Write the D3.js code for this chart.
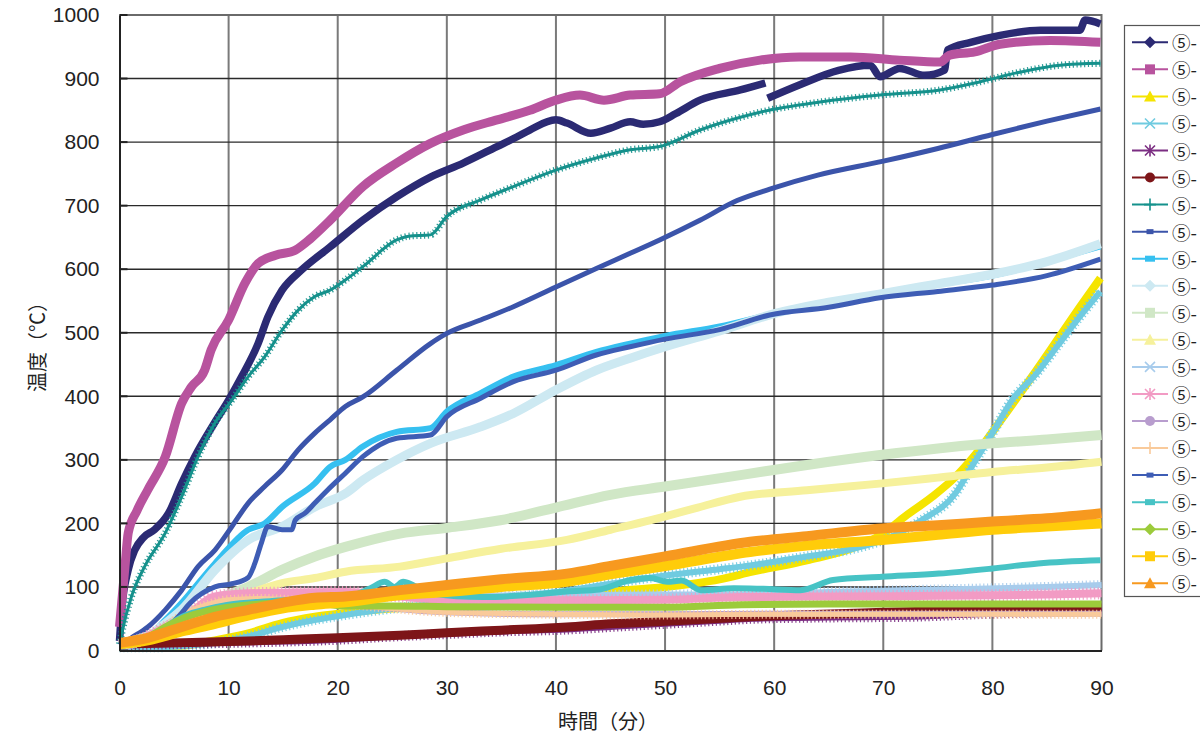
<!DOCTYPE html>
<html>
<head>
<meta charset="utf-8">
<script src="https://cdn.jsdelivr.net/npm/d3@7"></script>
<style>
  html, body { margin: 0; padding: 0; background: #fff; }
  svg { display: block; }
</style>
</head>
<body>
<svg id="chart" width="1200" height="742"></svg>
<script>
// Temperature readings, [minute, °C]; a null value marks a break in logging.
const s01 = [[0,15],[0.2,64],[0.8,127],[1.4,158],[2.2,178],[3.2,190],[4.5,216],[5.7,263],[6.9,305],[8.7,358],[10,394],[11.2,431],[12.7,483],[13.6,525],[14.9,567],[16.7,599],[19.3,635],[22.3,677],[25.4,714],[28.5,745],[31.5,767],[34.6,793],[36.4,808],[37.6,819],[40,835],[41,830],[43.2,814],[45,822],[46.8,832],[48,828],[49.5,832],[51,845],[53.2,866],[56.9,882],[59.2,893],[59.3,null],[59.4,869],[62.3,890],[65.9,913],[68.8,921],[69.7,903],[71.5,916],[73.8,905],[75.6,913],[75.9,945],[78,957],[80.7,968],[84.4,976],[88,976],[88.5,992],[89.9,986]];
const s02 = [[0,37],[0.5,132],[0.8,185],[1.6,220],[2.6,253],[4.2,305],[5.7,389],[6.6,415],[7.8,441],[8.4,473],[10,520],[11.5,578],[12.7,609],[14.3,622],[16.1,630],[17.5,648],[19.3,677],[22.3,730],[25.4,767],[28.5,798],[31.5,819],[34.6,835],[37.6,850],[40,866],[42.2,874],[44.4,866],[46.8,874],[49.5,876],[51.4,895],[55,916],[58.7,929],[62.3,934],[67,934],[71.5,929],[75.2,926],[76.1,937],[78.4,942],[80.7,954],[85.3,960],[89.9,957]];
const s03 = [[0,5],[3,6],[6,8],[8.75,16],[11.8,27],[14.9,43],[17.9,53],[20.7,59],[25,66],[30,70],[35,77],[40,85],[45,93],[50,100],[55,112],[58,124],[63,142],[67.5,163],[70,184],[72,211],[74.5,242],[76.6,273],[78.8,316],[80.6,358],[82.1,394],[84,440],[86,490],[88,540],[89.9,586]];
const s04 = [[0,5],[3,5],[6,7],[8.75,12],[11.8,22],[14.9,37],[17.9,48],[20.7,56],[25,66],[30,75],[35,82],[40,92],[45,105],[50,118],[55,128],[57,132],[63,148],[67.5,161],[70,174],[73.5,205],[76.6,247],[78.1,289],[80,342],[81.8,394],[84,435],[86,480],[88,525],[89.9,565]];
const s05 = [[0,8],[5,10],[10,12],[15,14],[20,17],[25,22],[30,26],[35,30],[41,33],[45,37],[50,42],[55,47],[58,50],[65,52],[72,53],[80,58],[90,62]];
const s06 = [[0,10],[5,12],[10,14],[15,17],[20,20],[25.7,24],[30,28],[35,32],[41,37],[45,42],[50,46],[57.8,53],[62,56],[70,60],[80,64],[90,67]];
const s07 = [[0,10],[0.2,27],[1.1,85],[2.3,132],[4.2,185],[5.7,242],[7.2,305],[8.75,358],[10.3,394],[11.8,431],[13.3,462],[14.9,504],[16.4,536],[17.9,557],[19.3,567],[20.7,583],[22.3,604],[25.4,646],[26.5,652],[28.5,654],[30,683],[33.1,709],[36.1,730],[40,756],[43.7,775],[46.8,788],[49.5,793],[53.2,819],[56.9,839],[58.7,847],[64.2,863],[69.7,874],[75.2,882],[78.9,895],[82.5,910],[86.2,921],[89.9,924]];
const s08 = [[0,8],[1.1,20],[2.6,37],[4.2,64],[5.7,95],[7.2,132],[8.75,158],[10.3,195],[11.8,232],[13.3,258],[14.9,284],[16.4,316],[17.9,342],[19.3,363],[20.7,384],[22.3,399],[25.4,441],[28.5,483],[30,499],[33.1,520],[36.1,541],[40,572],[43.7,601],[46.8,625],[49.5,646],[53.2,677],[56.6,708],[59.6,726],[64,748],[70,770],[75,790],[80,812],[85,833],[89.9,852]];
const s09 = [[0,8],[2,15],[4.2,48],[5.7,75],[8.75,137],[11.8,190],[13.3,200],[14.9,226],[17.9,263],[19.3,289],[20.7,300],[22.3,321],[25.4,344],[28.5,350],[30,376],[33.1,405],[36.1,431],[40,449],[43.7,470],[46.8,483],[50,495],[55,510],[60,530],[65,546],[70,561],[75,576],[80,590],[82,598],[85,612],[89.9,636]];
const s10 = [[0,8],[2,15],[4,40],[5.7,64],[8.75,127],[11.8,174],[14.9,195],[17.9,226],[20.7,247],[22.3,268],[25.4,300],[28.5,326],[33.1,352],[36.1,373],[40,410],[43.7,441],[46.8,460],[50,478],[55,503],[60,530],[65,548],[70,562],[75,577],[80,592],[85,612],[89.9,640]];
const s11 = [[0,10],[3,25],[5.5,50],[8.75,79],[11.8,100],[14.9,127],[17.9,148],[20.7,163],[25.7,184],[30,193],[34.9,205],[40,225],[45,245],[50,258],[56.9,276],[63,292],[69.9,308],[75,318],[80,326],[85,332],[90,339]];
const s12 = [[0,10],[3,25],[5.5,50],[8.75,75],[11.8,90],[14.9,106],[17.9,114],[20.7,124],[25.7,132],[30,145],[35,160],[41,174],[45,190],[48.7,205],[53,225],[56.9,242],[63,252],[69.9,263],[75,272],[80,281],[85,288],[90,297]];
const s13 = [[0,8],[2,15],[4,35],[6,55],[8,70],[10,78],[13,82],[20,85],[30,86],[40,87],[50,88],[57,88],[65,92],[75,96],[85,100],[90,103]];
const s14 = [[0,8],[2,18],[4,35],[5.7,48],[8.75,85],[11.8,90],[15,91],[20.7,92],[25,86],[30,80],[40,79],[50,80],[57,84],[65,85],[75,86],[85,88],[90,90]];
const s15 = [[0,8],[2,15],[4,35],[6,55],[8,70],[10,78],[13,80],[17,76],[20,72],[25,66],[30,60],[40,57],[50,57],[60,58],[70,58],[80,58],[90,58]];
const s16 = [[0,8],[2,15],[4,35],[6,58],[8,72],[10,80],[13,82],[17,78],[20,74],[25,66],[30,60],[40,57],[50,56],[60,57],[70,57],[80,57],[90,57]];
const s17 = [[0,8],[2,12],[4,30],[5.5,55],[6.5,75],[8.75,100],[10.3,105],[11.8,115],[12.4,137],[13,169],[13.6,195],[14.9,190],[15.8,190],[16.1,205],[17,216],[17.9,232],[19.1,253],[20.7,279],[22.3,305],[25.4,334],[28.5,339],[30,368],[33.1,397],[36.1,423],[40,441],[43.7,465],[46.8,478],[50,490],[55,505],[59.6,528],[65,540],[69.7,555],[75,565],[80,575],[85,590],[89.9,616]];
const s18 = [[0,8],[2,15],[4,35],[6,55],[8,65],[10,72],[14,78],[18,82],[21,85],[23,98],[24.3,108],[25.2,100],[26,108],[27,102],[28.5,90],[33.3,84],[38,88],[41,93],[44,96],[46.8,111],[48.7,114],[50.2,108],[51.5,110],[53.3,95],[56.3,98],[59,97],[62.4,95],[65.4,111],[69.9,116],[75.1,121],[80,129],[84.2,137],[89.9,142]];
const s19 = [[0,8],[2,15],[4,35],[6,52],[8,62],[10,68],[14,74],[18,75],[20.7,70],[25,70],[30,69],[40,68],[50,68],[57,72],[65,73],[75,73],[85,73],[90,73]];
const s20 = [[0,10],[2.6,16],[5.7,30],[8.75,42],[11.8,55],[14.9,66],[17.9,72],[20.7,76],[25.7,87],[30,92],[35,100],[41,108],[45,120],[50,133],[57.8,155],[63,165],[69.9,174],[75,182],[80,190],[85,195],[90,200]];
const s21 = [[0,12],[2.6,20],[5.7,37],[8.75,53],[11.8,64],[14.9,75],[17.9,83],[20.7,85],[25.7,95],[30,103],[35,112],[41,121],[45,133],[50,148],[57.8,171],[63,180],[69.9,192],[75,197],[80,203],[85,208],[90,216]];

const seriesData = [s01,s02,s03,s04,s05,s06,s07,s08,s09,s10,s11,s12,s13,s14,s15,s16,s17,s18,s19,s20,s21];
// legend entries as printed (the page edge cuts them after the dash)
const seriesNames = Array.from({ length: 21 }, () => "⑤-");

const xTicks = [0,10,20,30,40,50,60,70,80,90];
const yTicks = [0,100,200,300,400,500,600,700,800,900,1000];
const xTitle = "時間（分）";
const yTitle = "温度（℃）";

// Drawing styles per series: colour, band width, legend marker.
const seriesColors = ["#2b2a73","#b8539e","#f5e400","#70cbe0","#7b2d82","#7d1518","#15918c","#3b54aa","#36c0f0","#cde9f2","#d0e7c6","#f6f19c","#a8ccec","#f29bc4","#b89dce","#f9ca9b","#3e5db5","#47c3c5","#9ccb3b","#ffcc0a","#f7991f"];
const seriesWidths = [7.5,9,8,6,6,9,3,5,6,9,10,8,6,8,6,5,5,6,7,10,10];
const seriesMarkers = ["diamond","square","triangle","x","star","circle","plus","dash","rect","diamond","square","triangle","x","star","circle","plus","dash","rect","diamond","square","triangle"];

const svg = d3.select("#chart");
const plot = { left: 119.5, right: 1101.5, top: 15, bottom: 650.5 };

const x = d3.scaleLinear().domain([0, 90]).range([plot.left, plot.right]);
const y = d3.scaleLinear().domain([0, 1000]).range([plot.bottom, plot.top]);

const numFont = "'Liberation Sans', Arial, sans-serif";
const cjkFont = "'Noto Sans CJK JP', 'Noto Sans', sans-serif";

// grid
svg.append("g").selectAll("line").data(xTicks.slice(1, -1)).join("line")
  .attr("x1", d => x(d)).attr("x2", d => x(d))
  .attr("y1", plot.top).attr("y2", plot.bottom)
  .attr("stroke", "#7a7a7a").attr("stroke-width", 2);
svg.append("g").selectAll("line").data(yTicks.slice(1, -1)).join("line")
  .attr("x1", plot.left).attr("x2", plot.right)
  .attr("y1", d => y(d)).attr("y2", d => y(d))
  .attr("stroke", "#2a2a2a").attr("stroke-width", 1.4);

// frame (top and right)
svg.append("path")
  .attr("d", `M${plot.left},${plot.top}H${plot.right}V${plot.bottom}`)
  .attr("fill", "none").attr("stroke", "#6a6a6a").attr("stroke-width", 2);

// series
const line = d3.line()
  .defined(d => d[1] != null)
  .x(d => x(d[0])).y(d => y(d[1]))
  .curve(d3.curveMonotoneX);

const gSeries = svg.append("g")
  .attr("stroke-linejoin", "round").attr("stroke-linecap", "butt").attr("fill", "none");
seriesData.forEach((data, i) => {
  gSeries.append("path").datum(data)
    .attr("d", line)
    .attr("stroke", seriesColors[i])
    .attr("stroke-width", seriesWidths[i]);
  if (seriesMarkers[i] === "plus" || seriesMarkers[i] === "x" || seriesMarkers[i] === "star") {
    // marker texture: short cross strokes along the trace
    gSeries.append("path").datum(data)
      .attr("d", line)
      .attr("stroke", seriesColors[i])
      .attr("stroke-width", seriesWidths[i] + 4)
      .attr("stroke-dasharray", "1.2 2.6")
      .attr("opacity", 0.9);
  }
});

// axes
const yAxis = d3.axisLeft(y).tickValues(yTicks).tickFormat(d3.format("d")).tickSize(0).tickPadding(20);
const gy = svg.append("g").attr("transform", `translate(${plot.left},0)`).call(yAxis);
gy.select(".domain").attr("stroke", "#222").attr("stroke-width", 2);
gy.selectAll("text").attr("font-family", numFont).attr("font-size", 21).attr("fill", "#222");

const xAxis = d3.axisBottom(x).tickValues(xTicks).tickFormat(d3.format("d")).tickSize(0).tickPadding(30);
const gx = svg.append("g").attr("transform", `translate(0,${plot.bottom})`).call(xAxis);
gx.select(".domain").attr("stroke", "#222").attr("stroke-width", 2);
gx.selectAll("text").attr("font-family", numFont).attr("font-size", 21).attr("fill", "#222");

// small inner tick marks on the value axis
svg.append("g").selectAll("line").data(yTicks).join("line")
  .attr("x1", plot.left).attr("x2", plot.left + 8)
  .attr("y1", d => y(d)).attr("y2", d => y(d))
  .attr("stroke", "#222").attr("stroke-width", 2);

// axis titles
svg.append("text")
  .attr("x", 608).attr("y", 720)
  .attr("text-anchor", "middle").attr("dominant-baseline", "central")
  .attr("font-family", cjkFont).attr("font-size", 20).attr("fill", "#222")
  .text(xTitle);
svg.append("text")
  .attr("transform", "translate(36,342) rotate(-90)")
  .attr("text-anchor", "middle").attr("dominant-baseline", "central")
  .attr("font-family", cjkFont).attr("font-size", 20).attr("fill", "#222")
  .text(yTitle);

// legend
const legend = svg.append("g");
legend.append("rect")
  .attr("x", 1124.5).attr("y", 25.5).attr("width", 120).attr("height", 571)
  .attr("fill", "#fff").attr("stroke", "#555").attr("stroke-width", 1.2);

function markerPath(shape, cx, cy) {
  const p = d3.path();
  switch (shape) {
    case "diamond": p.moveTo(cx, cy - 6); p.lineTo(cx + 6, cy); p.lineTo(cx, cy + 6); p.lineTo(cx - 6, cy); p.closePath(); break;
    case "square": p.rect(cx - 5, cy - 5, 10, 10); break;
    case "triangle": p.moveTo(cx, cy - 6); p.lineTo(cx + 6, cy + 5); p.lineTo(cx - 6, cy + 5); p.closePath(); break;
    case "circle": p.arc(cx, cy, 5, 0, 2 * Math.PI); break;
    case "rect": p.rect(cx - 5, cy - 3, 10, 6); break;
    case "dash": p.rect(cx - 3.5, cy - 2.5, 7, 5); break;
  }
  return p.toString();
}
function strokeMarker(shape, cx, cy) {
  const p = d3.path();
  const r = 5;
  if (shape === "x" || shape === "star") {
    p.moveTo(cx - r, cy - r); p.lineTo(cx + r, cy + r);
    p.moveTo(cx - r, cy + r); p.lineTo(cx + r, cy - r);
  }
  if (shape === "plus" || shape === "star") {
    p.moveTo(cx, cy - 6); p.lineTo(cx, cy + 6);
    if (shape === "plus") { p.moveTo(cx - 6, cy); p.lineTo(cx + 6, cy); }
  }
  return p.toString();
}

seriesNames.forEach((name, i) => {
  const cy = 42.3 + i * 27.05;
  const row = legend.append("g");
  row.append("line")
    .attr("x1", 1132).attr("x2", 1168).attr("y1", cy).attr("y2", cy)
    .attr("stroke", seriesColors[i]).attr("stroke-width", 2);
  const shape = seriesMarkers[i];
  if (["x", "star", "plus"].includes(shape)) {
    row.append("path").attr("d", strokeMarker(shape, 1150, cy))
      .attr("stroke", seriesColors[i]).attr("stroke-width", 1.6).attr("fill", "none");
  } else {
    row.append("path").attr("d", markerPath(shape, 1150, cy)).attr("fill", seriesColors[i]);
  }
  row.append("text")
    .attr("x", 1172).attr("y", cy)
    .attr("dominant-baseline", "central")
    .attr("font-family", cjkFont).attr("font-size", 18.5).attr("fill", "#222")
    .text(name);
});
</script>
</body>
</html>
